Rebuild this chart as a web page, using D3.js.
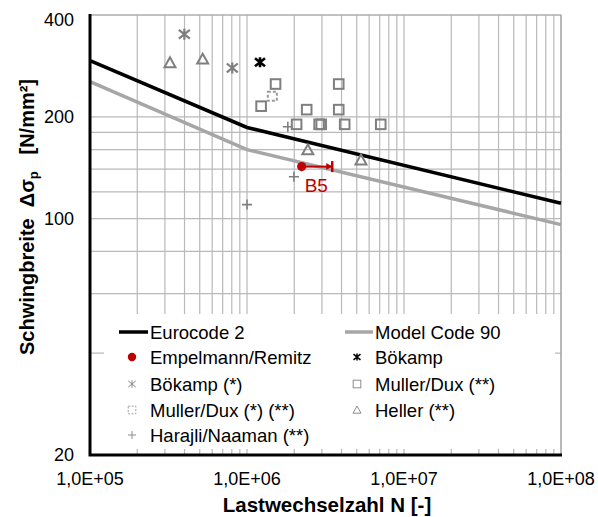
<!DOCTYPE html>
<html><head><meta charset="utf-8">
<script src="https://cdn.jsdelivr.net/npm/d3@7"></script>
<style>body{margin:0;background:#fff}svg{display:block;font-family:"Liberation Sans",Arial,sans-serif}</style>
</head><body><svg id="c" width="598" height="517"></svg>
<script>
// ---- data ----
const ec2N = [1e5, 1e6, 1e8];
const ec2S = [293, 186, 111];
const mc90N = [1e5, 1e6, 1e8];
const mc90S = [254, 160, 96];
const empN = [2.23e6];
const empS = [142.5];
const empEndN = [3.49e6];
const bokN = [1.21e6];
const bokS = [290];
const bokStarN = [3.99e5, 8.06e5];
const bokStarS = [351, 279];
const mdN = [1.52e6, 1.23e6, 2.4e6, 3.84e6, 3.84e6, 2.07e6, 2.88e6, 2.97e6, 4.19e6, 7.11e6];
const mdS = [250, 215, 210, 250, 210, 190, 190, 190, 190, 190];
const mdStarN = [1.45e6];
const mdStarS = [230];
const hellerN = [3.23e5, 5.22e5, 2.44e6, 5.32e6];
const hellerS = [289, 296, 159.6, 149];
const harN = [1.82e6, 1.99e6, 1.0e6];
const harS = [187, 133, 110];
const xTicks = [1e5, 1e6, 1e7, 1e8];
const xTickLabels = ["1,0E+05", "1,0E+06", "1,0E+07", "1,0E+08"];
const yTicks = [20, 100, 200, 400];
const yTickLabels = ["20", "100", "200", "400"];
const yGrid = [20, 40, 60, 80, 100, 120, 140, 160, 180, 200, 400];
const legendItems = [
  ["line-ec2", "Eurocode 2"], ["line-mc", "Model Code 90"],
  ["emp", "Empelmann/Remitz"], ["bok", "Bökamp"],
  ["bokstar", "Bökamp (*)"], ["md", "Muller/Dux (**)"],
  ["mdstar", "Muller/Dux (*) (**)"], ["heller", "Heller (**)"],
  ["har", "Harajli/Naaman (**)"]
];

const svg = d3.select("#c");
const L = 90, R = 561, T = 15, B = 455;
const x = d3.scaleLog().domain([1e5, 1e8]).range([L, R]);
const y = d3.scaleLog().domain([20, 400]).range([B, T]);
const gray = "#7f7f7f", grid = "#b9b9b9", red = "#c00000";

// gridlines
const vGrid = [];
for (let d = 5; d < 8; d++) for (let k = 1; k <= 9; k++) vGrid.push(k * Math.pow(10, d));
vGrid.push(1e8);
svg.append("g").selectAll("line").data(vGrid).join("line")
  .attr("x1", d => x(d)).attr("x2", d => x(d)).attr("y1", T).attr("y2", B)
  .attr("stroke", grid).attr("stroke-width", 1.2);
svg.append("g").selectAll("line").data(yGrid).join("line")
  .attr("x1", L).attr("x2", R).attr("y1", d => y(d)).attr("y2", d => y(d))
  .attr("stroke", grid).attr("stroke-width", 1.2);
// top/right border
svg.append("path").attr("d", `M${L},${T}H${R}V${B}`).attr("fill", "none").attr("stroke", "#a6a6a6").attr("stroke-width", 1.2);

// curves
const line = d3.line().x(d => x(d[0])).y(d => y(d[1]));
svg.append("path").datum(mc90N.map((n, i) => [n, mc90S[i]])).attr("d", line)
  .attr("fill", "none").attr("stroke", "#a6a6a6").attr("stroke-width", 3.5);
svg.append("path").datum(ec2N.map((n, i) => [n, ec2S[i]])).attr("d", line)
  .attr("fill", "none").attr("stroke", "#000").attr("stroke-width", 3.5);

// marker drawers
function star(g, cx, cy, s, col, w) {
  g.append("path").attr("d", `M${cx-s},${cy-s*0.8}L${cx+s},${cy+s*0.8}M${cx-s},${cy+s*0.8}L${cx+s},${cy-s*0.8}M${cx},${cy-s}V${cy+s}`)
    .attr("stroke", col).attr("stroke-width", w).attr("fill", "none");
}
function square(g, cx, cy, s, col, w, dash) {
  g.append("rect").attr("x", cx - s).attr("y", cy - s).attr("width", 2 * s).attr("height", 2 * s)
    .attr("fill", "none").attr("stroke", col).attr("stroke-width", w).attr("stroke-dasharray", dash || null);
}
function tri(g, cx, cy, s, col, w) {
  g.append("path").attr("d", `M${cx},${cy-s}L${cx+s},${cy+s*0.8}L${cx-s},${cy+s*0.8}Z`)
    .attr("fill", "none").attr("stroke", col).attr("stroke-width", w);
}
function plus(g, cx, cy, s, col, w) {
  g.append("path").attr("d", `M${cx-s},${cy}H${cx+s}M${cx},${cy-s}V${cy+s}`)
    .attr("stroke", col).attr("stroke-width", w);
}

const m = svg.append("g");
bokStarN.forEach((n, i) => star(m, x(n), y(bokStarS[i]), 5.5, gray, 2.2));
bokN.forEach((n, i) => star(m, x(n), y(bokS[i]), 5, "#000", 2.6));
mdN.forEach((n, i) => square(m, x(n), y(mdS[i]), 4.8, gray, 2));
mdStarN.forEach((n, i) => square(m, x(n), y(mdStarS[i]), 4.5, "#9a9a9a", 2, "3,2"));
hellerN.forEach((n, i) => tri(m, x(n), y(hellerS[i]), 5.5, gray, 2));
harN.forEach((n, i) => plus(m, x(n), y(harS[i]), 5, gray, 1.6));

// Empelmann/Remitz with arrow
empN.forEach((n, i) => {
  const x0 = x(n), x1 = x(empEndN[i]), yy = y(empS[i]);
  m.append("line").attr("x1", x0).attr("x2", x1).attr("y1", yy).attr("y2", yy).attr("stroke", red).attr("stroke-width", 2);
  m.append("path").attr("d", `M${x1-6},${yy-3.5}L${x1},${yy}L${x1-6},${yy+3.5}Z`).attr("fill", red);
  m.append("line").attr("x1", x1).attr("x2", x1).attr("y1", yy - 5.5).attr("y2", yy + 5.5).attr("stroke", red).attr("stroke-width", 2.5);
  m.append("circle").attr("cx", x0).attr("cy", yy).attr("r", 4.6).attr("fill", red);
  m.append("text").attr("x", x0 + 3).attr("y", yy + 25).attr("fill", red).attr("font-size", 19).text("B5");
});

// legend
const lg = svg.append("g");
lg.append("rect").attr("x", 104).attr("y", 314).attr("width", 451).attr("height", 135).attr("fill", "#fff");
const rowY = [332, 357, 384, 410, 435];
legendItems.forEach((it, i) => {
  const col = i % 2, row = Math.floor(i / 2);
  const cy = rowY[row];
  const mx = col === 0 ? 132 : 357;
  const tx = col === 0 ? 150 : 375;
  const k = it[0];
  if (k === "line-ec2") lg.append("line").attr("x1", mx - 13).attr("x2", mx + 16).attr("y1", cy).attr("y2", cy).attr("stroke", "#000").attr("stroke-width", 3.5);
  else if (k === "line-mc") lg.append("line").attr("x1", mx - 12).attr("x2", mx + 16).attr("y1", cy).attr("y2", cy).attr("stroke", "#a6a6a6").attr("stroke-width", 3.5);
  else if (k === "emp") lg.append("circle").attr("cx", mx).attr("cy", cy).attr("r", 4.2).attr("fill", red);
  else if (k === "bok") star(lg, mx, cy, 3.5, "#000", 1.5);
  else if (k === "bokstar") star(lg, mx, cy, 3.8, "#8c8c8c", 1);
  else if (k === "md") square(lg, mx, cy, 3.8, "#8c8c8c", 1);
  else if (k === "mdstar") square(lg, mx, cy, 3.8, "#a0a0a0", 1, "2,1.5");
  else if (k === "heller") tri(lg, mx, cy, 4, "#8c8c8c", 1);
  else if (k === "har") plus(lg, mx, cy, 4, "#8c8c8c", 1);
  lg.append("text").attr("x", tx).attr("y", cy).attr("dy", "0.36em").attr("font-size", 18.5).attr("fill", "#000").text(it[1]);
});

// axes lines (thick)
svg.append("path").attr("d", `M${L},${T-1}V${B}H${R+1}`).attr("fill", "none").attr("stroke", "#000").attr("stroke-width", 3);

// tick labels
svg.append("g").selectAll("text").data(xTicks).join("text")
  .attr("x", d => x(d)).attr("y", 485).attr("text-anchor", "middle").attr("font-size", 18)
  .text((d, i) => xTickLabels[i]);
svg.append("g").selectAll("text").data(yTicks).join("text")
  .attr("x", 74).attr("y", d => Math.max(y(d), 20)).attr("dy", "0.36em").attr("text-anchor", "end").attr("font-size", 18)
  .text((d, i) => yTickLabels[i]);

// axis titles
svg.append("text").attr("x", 327).attr("y", 512).attr("text-anchor", "middle").attr("font-size", 20.5).attr("font-weight", "bold")
  .text("Lastwechselzahl N [-]");
const yt = svg.append("text").attr("transform", "translate(34,217) rotate(-90)").attr("text-anchor", "middle")
  .attr("font-size", 20).attr("font-weight", "bold").attr("xml:space", "preserve");
yt.append("tspan").text("Schwingbreite  Δσ");
yt.append("tspan").attr("font-size", 13).attr("dy", 4).text("p");
yt.append("tspan").attr("dy", -4).text("   [N/mm²]");
</script></body></html>
